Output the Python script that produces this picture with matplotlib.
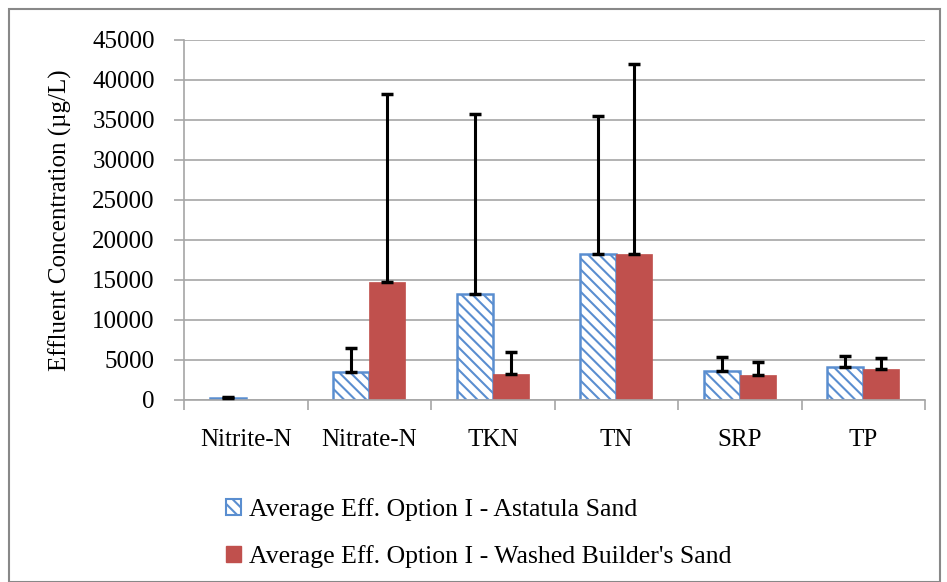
import numpy as np
import matplotlib
matplotlib.use('Agg')
import matplotlib.pyplot as plt
from matplotlib.patches import Patch, Rectangle

plt.rcParams['font.family'] = ['Liberation Serif', 'DejaVu Serif']
plt.rcParams['hatch.linewidth'] = 1.5

categories = ['Nitrite-N', 'Nitrate-N', 'TKN', 'TN', 'SRP', 'TP']
astatula = [200, 3460, 13250, 18300, 3600, 4100]
astatula_err = [150, 3000, 22550, 17200, 1800, 1400]
washed = [0, 14800, 3250, 18200, 3100, 3900]
washed_err = [0, 23500, 2750, 23800, 1600, 1350]

labels = ['Average Eff. Option I - Astatula Sand',
          "Average Eff. Option I - Washed Builder's Sand"]

blue = '#5A8ED0'
red = '#C0504D'
grid_grey = '#A6A6A6'

W, H = 947, 582
fig = plt.figure(figsize=(W / 100, H / 100), dpi=100)
ax = fig.add_axes([184 / W, 1 - 400 / H, 741 / W, 360 / H])

x = np.arange(len(categories))
bw = 0.29

ax.bar(x - bw / 2, astatula, bw, facecolor='white', edgecolor=blue,
       hatch='\\\\\\', linewidth=1.8, zorder=2)
ax.bar(x + bw / 2, washed, bw, color=red, edgecolor=red, linewidth=0.5, zorder=2)

ax.errorbar(x - bw / 2, astatula, yerr=[np.zeros(len(x)), astatula_err],
            fmt='none', ecolor='black', elinewidth=2.2, capsize=4,
            capthick=2.5, zorder=3)
ax.errorbar(x[1:] + bw / 2, washed[1:],
            yerr=[np.zeros(len(x) - 1), washed_err[1:]],
            fmt='none', ecolor='black', elinewidth=2.2, capsize=4,
            capthick=2.5, zorder=3)

ax.set_xlim(-0.5, len(categories) - 0.5)
ax.set_ylim(0, 45000)
ax.set_yticks(np.arange(0, 45001, 5000))
ax.yaxis.grid(True, color=grid_grey, linewidth=1.2, zorder=0)
ax.set_axisbelow(True)

ax.set_xticks(x)
ax.set_xticklabels(categories, fontsize=18)
ax.tick_params(axis='x', length=0, pad=21)
ax.set_xticks(np.arange(-0.5, len(categories)), minor=True)
ax.tick_params(axis='x', which='minor', length=7, color=grid_grey, width=1.2)
ax.tick_params(axis='y', labelsize=18, length=7, color=grid_grey, width=1.2, pad=14)

for s in ['top', 'right']:
    ax.spines[s].set_visible(False)
for s in ['left', 'bottom']:
    ax.spines[s].set_color(grid_grey)
    ax.spines[s].set_linewidth(1.2)

ax.set_ylabel('Effluent Concentration (µg/L)', fontsize=18)
ax.yaxis.set_label_coords(-0.151, 0.5)

handles = [Patch(facecolor='white', edgecolor=blue, hatch='\\\\\\', linewidth=1.5),
           Patch(facecolor=red, edgecolor=red)]
fig.legend(handles, labels, loc='upper left', bbox_to_anchor=(208 / W, 1 - 480 / H),
           frameon=False, fontsize=18.5, handlelength=0.6, handleheight=0.6,
           handletextpad=0.3, labelspacing=0.95, borderpad=0.2)

fig.patches.append(Rectangle((9 / W, 0), 931 / W, 1 - 9 / H, transform=fig.transFigure,
                             fill=False, edgecolor='#888888', linewidth=1.5))

fig.savefig('out.png', dpi=100)
